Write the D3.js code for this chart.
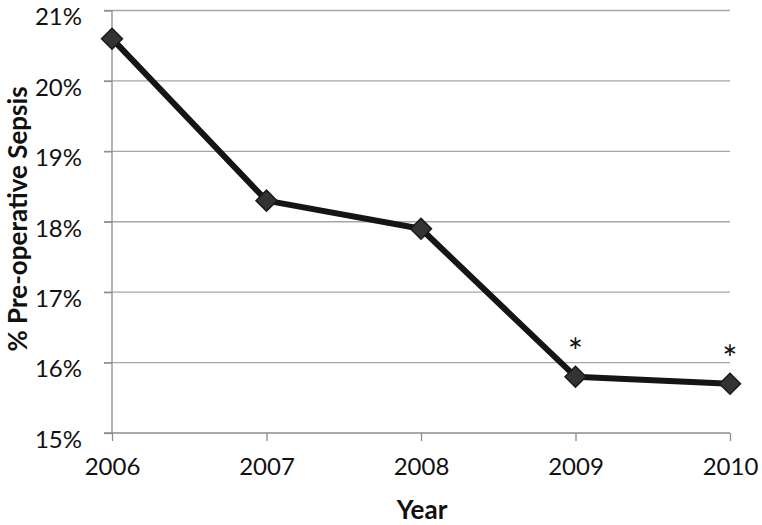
<!DOCTYPE html>
<html><head><meta charset="utf-8">
<script src="https://cdn.jsdelivr.net/npm/d3@7"></script>
<style>body{margin:0;background:#fff}svg{display:block}text{font-family:Lato,"Open Sans",sans-serif}</style>
</head><body><svg id="c" width="762" height="525"></svg>
<script>
const years = [2006, 2007, 2008, 2009, 2010];
const sepsisPct = [20.6, 18.3, 17.9, 15.8, 15.7];
const significant = [false, false, false, true, true];
const yTicks = [15, 16, 17, 18, 19, 20, 21];
const xLabel = "Year";
const yLabel = "% Pre-operative Sepsis";

const svg = d3.select("#c");
const m = {l:112, r:32, t:10.5, b:92};
const W = 762, H = 525;
const x = d3.scalePoint().domain(years).range([m.l, W - m.r]);
const y = d3.scaleLinear().domain([15, 21]).range([H - m.b, m.t]);

// gridlines
svg.append("g").selectAll("line").data(yTicks.filter(d => d > 15)).join("line")
  .attr("x1", m.l - 8).attr("x2", W - m.r)
  .attr("y1", d => y(d)).attr("y2", d => y(d))
  .attr("stroke", "#a6a6a6").attr("stroke-width", 1.3);

// y axis
const ya = svg.append("g").attr("transform", `translate(${m.l},0)`)
  .call(d3.axisLeft(y).tickValues(yTicks).tickSize(8).tickPadding(22).tickFormat(d => d + "%"));
ya.select(".domain").attr("stroke", "#8c8c8c").attr("stroke-width", 1.3).attr("d", `M-8,${y(15)}H0V${y(21)}`);
ya.selectAll(".tick line").attr("stroke", "#8c8c8c").attr("stroke-width", 1.3);
ya.selectAll(".tick text").attr("font-size", 24).attr("fill", "#111").attr("font-family", "Lato").attr("dy", "0.6em");

// x axis
const xa = svg.append("g").attr("transform", `translate(0,${y(15)})`)
  .call(d3.axisBottom(x).tickSize(8).tickPadding(17).tickFormat(d3.format("d")));
xa.select(".domain").attr("stroke", "#8c8c8c").attr("stroke-width", 1.3).attr("d", `M${m.l},0H${W - m.r}`);
xa.selectAll(".tick line").attr("stroke", "#8c8c8c").attr("stroke-width", 1.3);
xa.selectAll(".tick text").attr("font-size", 24).attr("fill", "#111").attr("font-family", "Lato");

const pts = years.map((d, i) => ({yr: d, v: sepsisPct[i], sig: significant[i]}));

// line
svg.append("path").datum(pts)
  .attr("d", d3.line().x(d => x(d.yr)).y(d => y(d.v)))
  .attr("fill", "none").attr("stroke", "#151515").attr("stroke-width", 6).attr("stroke-linejoin", "round");

// markers
svg.append("g").selectAll("path").data(pts).join("path")
  .attr("transform", d => `translate(${x(d.yr)},${y(d.v)})`)
  .attr("d", d3.symbol(d3.symbolDiamond2, 280)())
  .attr("fill", "#333").attr("stroke", "#1a1a1a").attr("stroke-width", 1.5);

// asterisks
svg.append("g").selectAll("text").data(pts.filter(d => d.sig)).join("text")
  .attr("x", d => x(d.yr)).attr("y", d => y(d.v) - 12)
  .attr("text-anchor", "middle").attr("font-size", 36).attr("fill", "#111")
  .text("*");

// axis titles
svg.append("text").attr("x", 422).attr("y", 519)
  .attr("text-anchor", "middle").attr("font-size", 26).attr("font-weight", "bold").attr("fill", "#111")
  .text(xLabel);
svg.append("text").attr("transform", `translate(26.5,${219}) rotate(-90)`)
  .attr("text-anchor", "middle").attr("font-size", 26).attr("font-weight", "bold").attr("fill", "#111")
  .text(yLabel);
</script></body></html>
